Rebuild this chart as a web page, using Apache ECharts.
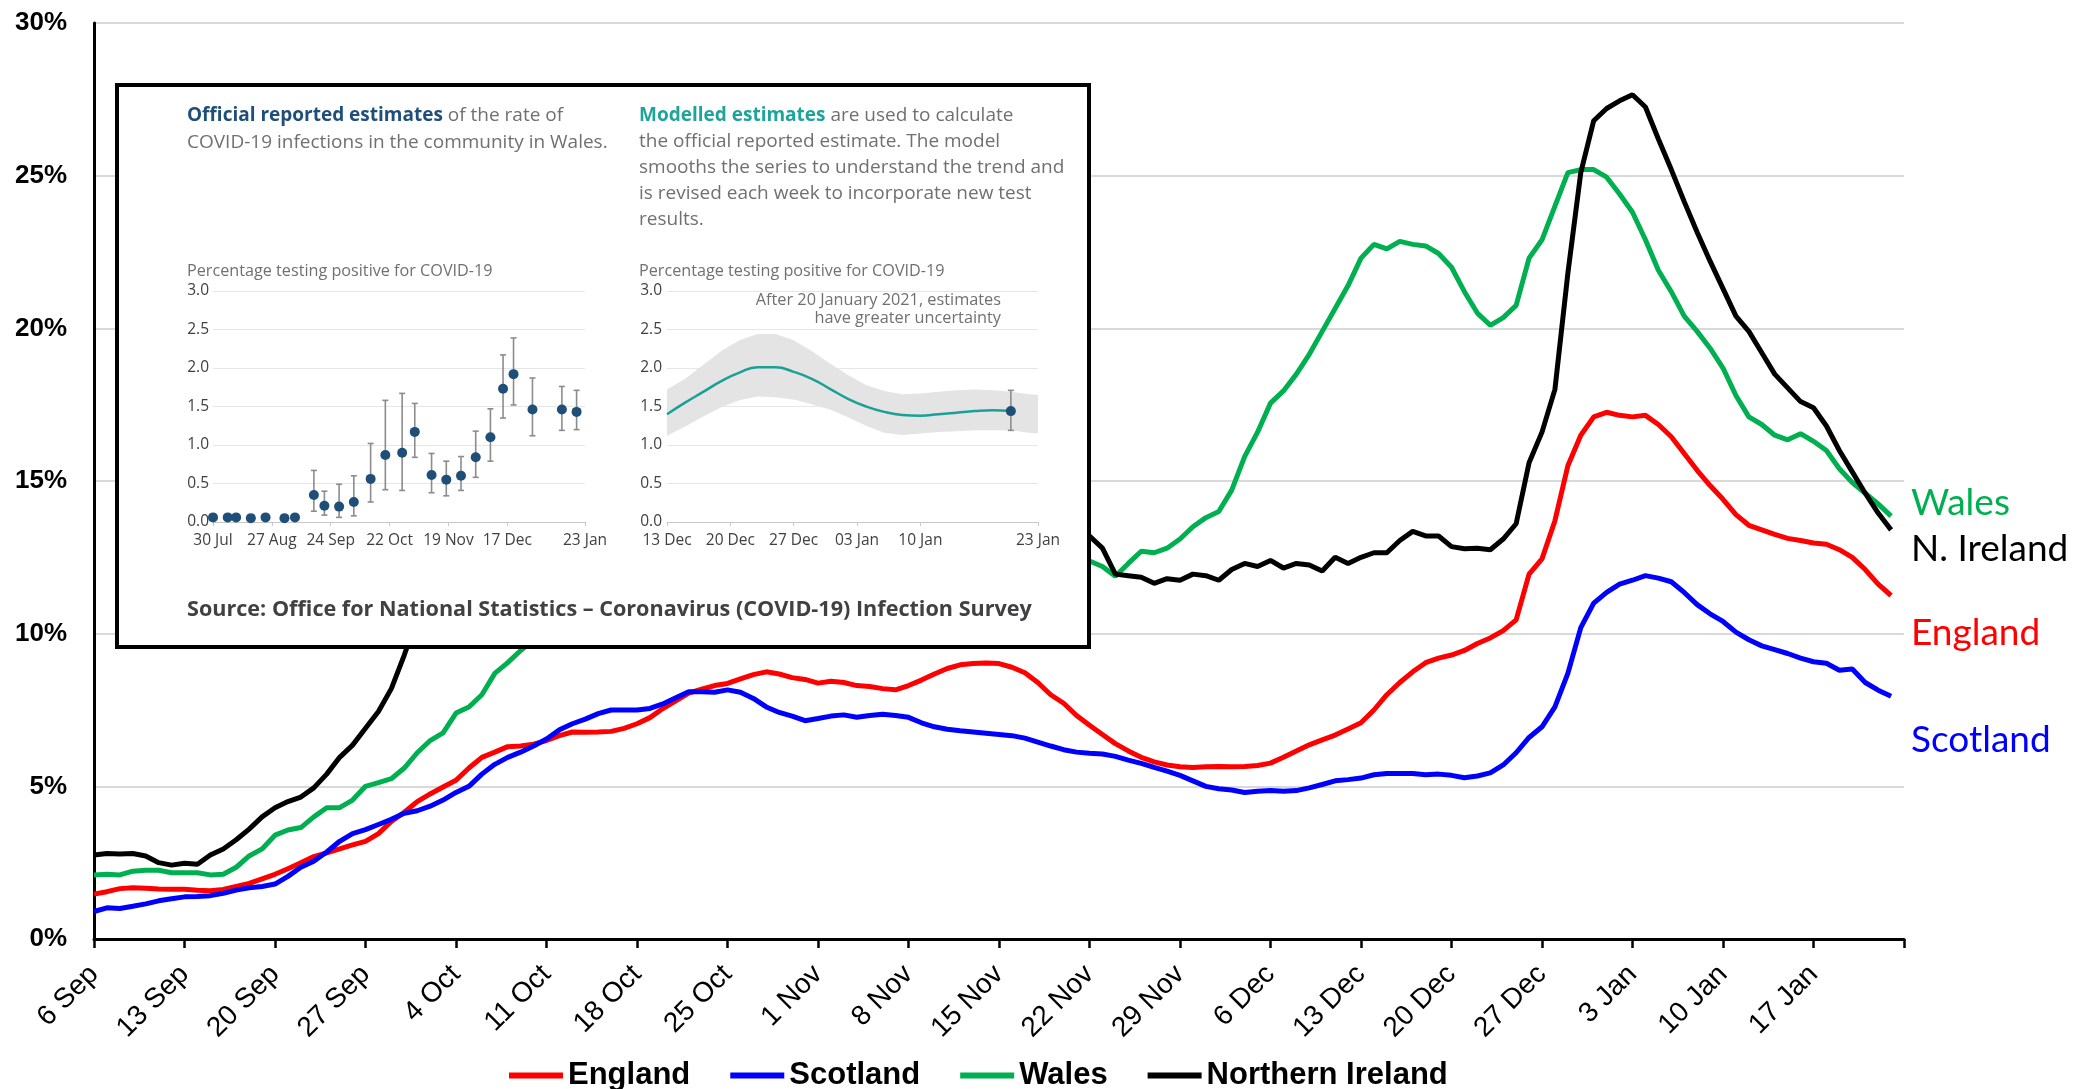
<!DOCTYPE html>
<html><head><meta charset="utf-8">
<script src="https://cdn.jsdelivr.net/npm/echarts@6/dist/echarts.min.js"></script>
<style>html,body{margin:0;padding:0;background:#fff}#c{width:2075px;height:1089px}</style>
</head><body><div id="c"></div>
<script>
// ---------- Main chart data (daily, 6 Sep 2020 onwards) ----------
const startDate = '2020-09-06';
const endDate = '2021-01-24';
const yTicks = [0, 5, 10, 15, 20, 25, 30];
const seriesNames = ['England', 'Scotland', 'Wales', 'Northern Ireland'];
const seriesColors = ['#ff0000', '#0000ff', '#00b050', '#000000'];

const england = [
1.47,1.55,1.65,1.68,1.66,1.64,1.63,1.63,1.60,1.58,
1.62,1.72,1.82,1.97,2.12,2.30,2.50,2.70,2.82,2.95,
3.08,3.20,3.45,3.85,4.15,4.50,4.75,4.98,5.20,5.60,
5.95,6.12,6.30,6.32,6.38,6.50,6.66,6.78,6.77,6.78,
6.80,6.90,7.05,7.25,7.55,7.80,8.05,8.18,8.30,8.37,
8.52,8.66,8.75,8.68,8.56,8.50,8.38,8.44,8.40,8.30,
8.27,8.20,8.16,8.30,8.48,8.68,8.86,8.98,9.02,9.04,
9.02,8.90,8.72,8.40,8.00,7.72,7.32,7.00,6.70,6.40,
6.16,5.95,5.80,5.70,5.64,5.62,5.64,5.65,5.64,5.65,
5.68,5.76,5.95,6.16,6.36,6.52,6.68,6.88,7.08,7.50,
8.00,8.40,8.75,9.05,9.20,9.30,9.45,9.68,9.86,10.10,
10.45,11.95,12.45,13.70,15.50,16.50,17.10,17.25,17.15,17.10,
17.15,16.85,16.45,15.90,15.35,14.85,14.40,13.90,13.55,13.40,
13.25,13.12,13.05,12.97,12.93,12.75,12.50,12.10,11.62,11.25];

const scotland = [
0.90,1.02,1.00,1.07,1.15,1.25,1.32,1.38,1.39,1.42,
1.50,1.60,1.68,1.72,1.80,2.05,2.35,2.55,2.85,3.20,
3.45,3.58,3.75,3.92,4.12,4.20,4.35,4.55,4.80,5.00,
5.40,5.72,5.95,6.12,6.32,6.55,6.85,7.05,7.20,7.38,
7.50,7.50,7.50,7.55,7.70,7.90,8.10,8.10,8.08,8.16,
8.08,7.88,7.60,7.42,7.30,7.15,7.22,7.30,7.34,7.26,
7.32,7.36,7.32,7.26,7.08,6.95,6.87,6.82,6.78,6.74,
6.70,6.66,6.58,6.45,6.32,6.20,6.12,6.08,6.06,5.98,
5.86,5.75,5.62,5.50,5.36,5.18,5.00,4.92,4.88,4.80,
4.84,4.86,4.84,4.86,4.95,5.06,5.18,5.22,5.27,5.38,
5.42,5.42,5.42,5.38,5.40,5.36,5.28,5.34,5.44,5.70,
6.10,6.60,6.95,7.60,8.70,10.20,11.00,11.35,11.62,11.75,
11.90,11.82,11.70,11.35,10.95,10.65,10.40,10.05,9.80,9.60,
9.48,9.35,9.20,9.08,9.03,8.80,8.84,8.40,8.15,7.95];

const wales = [
2.10,2.12,2.10,2.22,2.25,2.25,2.17,2.17,2.17,2.10,
2.12,2.35,2.72,2.95,3.40,3.57,3.65,4.00,4.30,4.30,
4.55,5.00,5.12,5.25,5.60,6.10,6.50,6.75,7.40,7.60,
8.00,8.70,9.05,9.45,9.80,10.20,10.60,11.00,11.40,11.80,
12.10,12.40,12.60,12.80,13.00,13.20,13.30,13.40,13.50,13.60,
13.70,13.80,13.90,14.00,14.00,14.10,14.10,14.00,14.00,13.90,
13.80,13.70,13.60,13.50,13.40,13.30,13.20,13.10,13.00,12.90,
12.80,12.70,12.70,12.60,12.50,12.50,12.40,12.38,12.20,11.88,
12.30,12.70,12.65,12.80,13.10,13.50,13.80,14.00,14.70,15.80,
16.60,17.55,17.95,18.50,19.15,19.90,20.65,21.40,22.30,22.75,
22.60,22.85,22.75,22.70,22.45,22.00,21.20,20.50,20.10,20.35,
20.75,22.30,22.90,24.00,25.10,25.20,25.20,24.95,24.40,23.80,
22.90,21.90,21.20,20.40,19.90,19.35,18.70,17.80,17.10,16.85,
16.50,16.35,16.55,16.30,16.00,15.40,14.95,14.60,14.25,13.85];

const nIreland = [
2.75,2.80,2.78,2.80,2.72,2.50,2.42,2.48,2.45,2.75,
2.95,3.25,3.60,4.00,4.30,4.50,4.65,4.95,5.40,5.95,
6.35,6.90,7.45,8.20,9.30,10.50,11.50,12.40,13.20,13.80,
14.30,14.70,15.10,15.40,15.60,15.80,15.90,16.00,15.90,15.80,
15.70,15.60,15.40,15.20,15.00,14.90,14.80,14.70,14.60,14.50,
14.50,14.40,14.30,14.30,14.20,14.10,14.00,13.90,13.90,13.80,
13.80,13.70,13.70,13.60,13.60,13.50,13.50,13.50,13.40,13.40,
13.30,13.30,13.30,13.30,13.40,13.40,13.30,13.20,12.80,11.95,
11.90,11.85,11.65,11.80,11.75,11.95,11.90,11.75,12.10,12.30,
12.20,12.40,12.15,12.30,12.25,12.05,12.50,12.30,12.50,12.65,
12.65,13.05,13.35,13.20,13.20,12.85,12.78,12.80,12.75,13.10,
13.60,15.60,16.60,18.00,21.80,25.10,26.80,27.20,27.45,27.65,
27.25,26.20,25.20,24.15,23.15,22.20,21.30,20.40,19.90,19.20,
18.50,18.05,17.60,17.40,16.80,16.00,15.30,14.60,13.95,13.40];

// ---------- Inset: official reported estimates (Wales) ----------
const leftBase = '2020-07-30';
const leftTickDates = ['2020-07-30','2020-08-27','2020-09-24','2020-10-22','2020-11-19','2020-12-17','2021-01-23'];
const leftTickLabels = ['30 Jul','27 Aug','24 Sep','22 Oct','19 Nov','17 Dec','23 Jan'];
const officialDates = ['2020-07-30','2020-08-06','2020-08-10','2020-08-17','2020-08-24','2020-09-02','2020-09-07',
  '2020-09-16','2020-09-21','2020-09-28','2020-10-05','2020-10-13','2020-10-20','2020-10-28','2020-11-03',
  '2020-11-11','2020-11-18','2020-11-25','2020-12-02','2020-12-09','2020-12-15','2020-12-20','2020-12-29',
  '2021-01-12','2021-01-19'];
const officialValue = [0.06,0.06,0.06,0.05,0.06,0.05,0.06,0.35,0.21,0.20,0.26,0.56,0.87,0.90,1.17,0.61,0.55,0.60,0.84,1.10,1.73,1.92,1.46,1.46,1.43];
const officialLow   = [0.03,0.03,0.03,0.02,0.03,0.02,0.03,0.14,0.09,0.06,0.08,0.26,0.42,0.41,0.84,0.38,0.34,0.41,0.58,0.79,1.35,1.52,1.12,1.19,1.20];
const officialHigh  = [0.09,0.09,0.09,0.08,0.09,0.08,0.09,0.67,0.40,0.49,0.60,1.02,1.58,1.67,1.54,0.89,0.79,0.85,1.18,1.47,2.17,2.39,1.87,1.76,1.71];

// ---------- Inset: modelled estimates ----------
const rightBase = '2020-12-13';
const rightTickDates = ['2020-12-13','2020-12-20','2020-12-27','2021-01-03','2021-01-10','2021-01-23'];
const rightTickLabels = ['13 Dec','20 Dec','27 Dec','03 Jan','10 Jan','23 Jan'];
const modelDates = ['2020-12-13','2020-12-15','2020-12-17','2020-12-19','2020-12-21','2020-12-23','2020-12-25',
  '2020-12-27','2020-12-29','2020-12-31','2021-01-02','2021-01-04','2021-01-06','2021-01-08','2021-01-10',
  '2021-01-12','2021-01-14','2021-01-16','2021-01-18','2021-01-20'];
const modelValue = [1.40,1.55,1.69,1.83,1.94,2.01,2.01,1.95,1.86,1.73,1.60,1.50,1.43,1.39,1.38,1.40,1.42,1.44,1.45,1.44];
const bandDates = modelDates.concat(['2021-01-22','2021-01-23']);
const bandUpper = [1.72,1.86,2.04,2.22,2.36,2.44,2.44,2.36,2.22,2.06,1.91,1.78,1.70,1.66,1.67,1.69,1.71,1.72,1.71,1.69,1.66,1.65];
const bandLower = [1.12,1.24,1.37,1.49,1.58,1.63,1.62,1.59,1.53,1.46,1.36,1.25,1.16,1.13,1.15,1.17,1.18,1.19,1.19,1.19,1.16,1.15];
const latestDate = '2021-01-20';
const latestValue = 1.44, latestLow = 1.19, latestHigh = 1.71;
const insetTicks = [0, 0.5, 1.0, 1.5, 2.0, 2.5, 3.0];

// ---------- helpers ----------
const MONTHS = ['Jan','Feb','Mar','Apr','May','Jun','Jul','Aug','Sep','Oct','Nov','Dec'];
const DAY = 86400000;
function dayOf(s, base) { return Math.round((Date.parse(s) - Date.parse(base)) / DAY); }
const categories = [];
for (let t = Date.parse(startDate); t <= Date.parse(endDate); t += DAY) {
  const d = new Date(t);
  categories.push(d.getUTCDate() + ' ' + MONTHS[d.getUTCMonth()]);
}
const leftTicks = leftTickDates.map(s => dayOf(s, leftBase));
const rightTicks = rightTickDates.map(s => dayOf(s, rightBase));

const FONT = '"Liberation Sans", Arial, sans-serif';
const OS = '"Open Sans", sans-serif';

function errorBarItem(params, api) {
  const x = api.value(0);
  const lo = api.coord([x, api.value(1)]);
  const hi = api.coord([x, api.value(2)]);
  const w = 3;
  const st = { stroke: '#8c8c8c', lineWidth: 1.6 };
  return { type: 'group', children: [
    { type: 'line', shape: { x1: lo[0], y1: lo[1], x2: hi[0], y2: hi[1] }, style: st },
    { type: 'line', shape: { x1: lo[0]-w, y1: lo[1], x2: lo[0]+w, y2: lo[1] }, style: st },
    { type: 'line', shape: { x1: hi[0]-w, y1: hi[1], x2: hi[0]+w, y2: hi[1] }, style: st }
  ]};
}

const bandData = bandDates.map((s, i) => [dayOf(s, rightBase), bandLower[i], bandUpper[i]]);

const mainSeries = [england, scotland, wales, nIreland].map((arr, i) => ({
  name: seriesNames[i], type: 'line', xAxisIndex: 0, yAxisIndex: 0,
  data: arr, showSymbol: false, symbol: 'none', z: 2,
  lineStyle: { color: seriesColors[i], width: 5 }, itemStyle: { color: seriesColors[i] }
}));

const annoStyle = { fontFamily: OS, fontSize: 16.3, fontWeight: 'normal', color: '#707070', lineHeight: 18 };

const chart = echarts.init(document.getElementById('c'));
chart.setOption({
  animation: false,
  backgroundColor: '#fff',
  grid: [
    { left: 94, top: 23, width: 1810, height: 916, outerBoundsMode: 'none' },
    { left: 213, top: 291, width: 372, height: 231, outerBoundsMode: 'none' },
    { left: 667, top: 291, width: 371, height: 231, outerBoundsMode: 'none' }
  ],
  xAxis: [
    { type: 'category', gridIndex: 0, data: categories, boundaryGap: false,
      axisLine: { lineStyle: { color: '#000', width: 3 } },
      axisTick: { show: true, interval: (i) => i % 7 === 0, length: 9, lineStyle: { color: '#000', width: 2.5 } },
      axisLabel: { interval: (i) => i % 7 === 0 && i < categories.length - 1, rotate: 45, margin: 31,
        fontFamily: FONT, fontSize: 28, color: '#000' },
      splitLine: { show: false } },
    { type: 'value', gridIndex: 1, min: 0, max: leftTicks[leftTicks.length-1], z: 60,
      axisLine: { show: true, lineStyle: { color: '#c8c8c8', width: 1 } },
      axisTick: { show: true, length: 4, customValues: leftTicks, lineStyle: { color: '#c8c8c8' } },
      axisLabel: { customValues: leftTicks, formatter: v => leftTickLabels[leftTicks.indexOf(v)] || '',
        fontFamily: OS, fontSize: 15.5, color: '#414042', margin: 11, showMinLabel: true, showMaxLabel: true },
      splitLine: { show: false } },
    { type: 'value', gridIndex: 2, min: 0, max: rightTicks[rightTicks.length-1], z: 60,
      axisLine: { show: true, lineStyle: { color: '#c8c8c8', width: 1 } },
      axisTick: { show: true, length: 4, customValues: rightTicks, lineStyle: { color: '#c8c8c8' } },
      axisLabel: { customValues: rightTicks, formatter: v => rightTickLabels[rightTicks.indexOf(v)] || '',
        fontFamily: OS, fontSize: 15.5, color: '#414042', margin: 11, showMinLabel: true, showMaxLabel: true },
      splitLine: { show: false } }
  ],
  yAxis: [
    { type: 'value', gridIndex: 0, min: yTicks[0], max: yTicks[yTicks.length-1], interval: 5,
      axisLine: { show: true, lineStyle: { color: '#000', width: 3 } },
      axisTick: { show: false },
      axisLabel: { formatter: '{value}%', fontFamily: FONT, fontSize: 26, fontWeight: 'bold', color: '#000', margin: 27 },
      splitLine: { lineStyle: { color: '#d9d9d9', width: 2 } } },
    { type: 'value', gridIndex: 1, min: 0, max: 3, interval: 0.5, z: 60,
      axisLine: { show: false }, axisTick: { show: false },
      axisLabel: { formatter: v => v.toFixed(1), fontFamily: OS, fontSize: 15.5, color: '#414042', margin: 4 },
      splitLine: { lineStyle: { color: '#e6e6e6', width: 1 } } },
    { type: 'value', gridIndex: 2, min: 0, max: 3, interval: 0.5, z: 60,
      axisLine: { show: false }, axisTick: { show: false },
      axisLabel: { formatter: v => v.toFixed(1), fontFamily: OS, fontSize: 15.5, color: '#414042', margin: 5 },
      splitLine: { lineStyle: { color: '#e6e6e6', width: 1 } } }
  ],
  legend: {
    left: 504, top: 1055, itemWidth: 54, itemHeight: 6, itemGap: 40, icon: 'rect',
    data: seriesNames,
    textStyle: { fontFamily: FONT, fontSize: 31, fontWeight: 'bold', color: '#000' }
  },
  graphic: [
    { type: 'rect', z: 50, shape: { x: 117, y: 85, width: 972, height: 562 },
      style: { fill: '#fff', stroke: '#000', lineWidth: 4 } }
  ],
  title: [
    { left: 187, top: 102, padding: 0, z: 70,
      text: '{b|Official reported estimates} of the rate of\nCOVID-19 infections in the community in Wales.',
      textStyle: { fontFamily: OS, fontSize: 19, fontWeight: 'normal', color: '#707070', lineHeight: 27,
        rich: { b: { fontFamily: OS, fontSize: 19, fontWeight: 'bold', color: '#1f4f78', lineHeight: 27 } } } },
    { left: 639, top: 103, padding: 0, z: 70,
      text: '{b|Modelled estimates} are used to calculate\nthe official reported estimate. The model\nsmooths the series to understand the trend and\nis revised each week to incorporate new test\nresults.',
      textStyle: { fontFamily: OS, fontSize: 19, fontWeight: 'normal', color: '#707070', lineHeight: 26,
        rich: { b: { fontFamily: OS, fontSize: 19, fontWeight: 'bold', color: '#1fa39b', lineHeight: 26 } } } },
    { left: 187, top: 261, padding: 0, z: 70, text: 'Percentage testing positive for COVID-19',
      textStyle: { fontFamily: OS, fontSize: 16.2, fontWeight: 'normal', color: '#707070', lineHeight: 20 } },
    { left: 639, top: 261, padding: 0, z: 70, text: 'Percentage testing positive for COVID-19',
      textStyle: { fontFamily: OS, fontSize: 16.2, fontWeight: 'normal', color: '#707070', lineHeight: 20 } },
    { right: 1074, top: 291, padding: 0, z: 70, text: 'After 20 January 2021, estimates', textStyle: annoStyle },
    { right: 1074, top: 309, padding: 0, z: 70, text: 'have greater uncertainty', textStyle: annoStyle },
    { left: 187, top: 597, padding: 0, z: 70,
      text: 'Source: Office for National Statistics \u2013 Coronavirus (COVID-19) Infection Survey',
      textStyle: { fontFamily: OS, fontSize: 21.6, fontWeight: 'bold', color: '#414042', lineHeight: 26 } },
    { left: 1911, top: 483, padding: 0, text: 'Wales',
      textStyle: { fontFamily: 'Lato, sans-serif', fontSize: 37, fontWeight: 'normal', color: '#00b050', lineHeight: 40 } },
    { left: 1911, top: 529, padding: 0, text: 'N. Ireland',
      textStyle: { fontFamily: 'Lato, sans-serif', fontSize: 37, fontWeight: 'normal', color: '#000', lineHeight: 40 } },
    { left: 1911, top: 613, padding: 0, text: 'England',
      textStyle: { fontFamily: 'Lato, sans-serif', fontSize: 37, fontWeight: 'normal', color: '#ff0000', lineHeight: 40 } },
    { left: 1911, top: 720, padding: 0, text: 'Scotland',
      textStyle: { fontFamily: 'Lato, sans-serif', fontSize: 37, fontWeight: 'normal', color: '#0000ff', lineHeight: 40 } }
  ],
  series: mainSeries.concat([
    { type: 'custom', xAxisIndex: 1, yAxisIndex: 1, z: 64, silent: true,
      data: officialDates.map((s, i) => [dayOf(s, leftBase), officialLow[i], officialHigh[i]]),
      renderItem: errorBarItem },
    { type: 'scatter', xAxisIndex: 1, yAxisIndex: 1, z: 66, symbolSize: 10,
      itemStyle: { color: '#1f4f78', opacity: 1 },
      data: officialDates.map((s, i) => [dayOf(s, leftBase), officialValue[i]]) },
    { type: 'custom', xAxisIndex: 2, yAxisIndex: 2, z: 62, silent: true,
      data: bandData,
      renderItem: function (params, api) {
        if (params.dataIndex !== 0) return null;
        const up = bandData.map(d => api.coord([d[0], d[2]]));
        const lo = bandData.map(d => api.coord([d[0], d[1]])).reverse();
        return { type: 'polygon', shape: { points: up.concat(lo) }, style: { fill: '#e4e4e4' } };
      } },
    { type: 'line', xAxisIndex: 2, yAxisIndex: 2, z: 64, smooth: true, showSymbol: false, symbol: 'none',
      lineStyle: { color: '#1aa096', width: 2.5 },
      data: modelDates.map((s, i) => [dayOf(s, rightBase), modelValue[i]]),
      markLine: { silent: true, symbol: 'none', label: { show: false },
        lineStyle: { color: '#b5b5b5', type: [5, 5], width: 1.5 },
        data: [{ xAxis: dayOf(latestDate, rightBase) }] } },
    { type: 'custom', xAxisIndex: 2, yAxisIndex: 2, z: 65, silent: true,
      data: [[dayOf(latestDate, rightBase), latestLow, latestHigh]], renderItem: errorBarItem },
    { type: 'scatter', xAxisIndex: 2, yAxisIndex: 2, z: 66, symbolSize: 10,
      itemStyle: { color: '#1f4f78', opacity: 1 },
      data: [[dayOf(latestDate, rightBase), latestValue]] }
  ])
});
</script>
</body></html>
